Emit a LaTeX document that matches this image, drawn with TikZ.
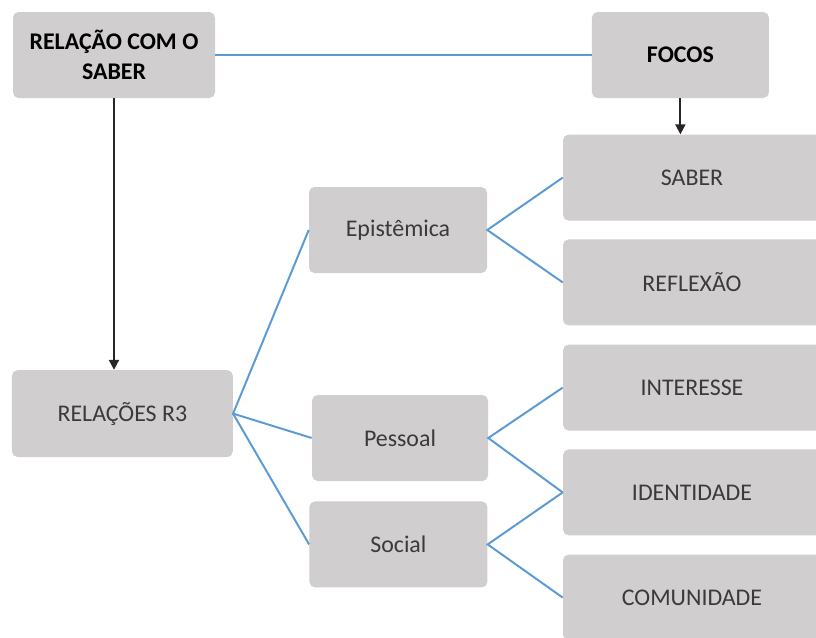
\documentclass[tikz,border=0pt]{standalone}
\usepackage{fontspec}
\setmainfont{Carlito}
\usetikzlibrary{positioning,arrows.meta}
\definecolor{boxgray}{HTML}{D0CECE}
\definecolor{linkblue}{HTML}{5B9BD5}
\definecolor{txtgray}{HTML}{3A3A3A}

\begin{document}
\begin{tikzpicture}[
  box/.style={fill=boxgray, rounded corners=4pt, minimum width=4.45cm, minimum height=2.15cm,
    inner sep=2pt, align=center, font=\fontsize{17}{21}\selectfont, text=txtgray},
  wide/.style={box, minimum width=6.45cm},
  head/.style={box, font=\fontsize{17}{21}\selectfont\bfseries, text=black},
  link/.style={linkblue, line width=1.4pt},
  arr/.style={-{Triangle[width=7pt,length=7pt]}, line width=1.4pt, black!85}]
  \useasboundingbox (0,0) rectangle (20.4,-15.925);
  \node[head, minimum width=5.05cm] (rel) at (2.85,-1.375) {RELAÇÃO COM O\\SABER};
  \node[head, minimum width=4.425cm] (focos) at (17.01,-1.375) {FOCOS};
  \node[box, minimum width=5.52cm, minimum height=2.175cm] (r3) at (3.06,-10.34) {RELAÇÕES R3};
  \node[box] (epist) at (9.95,-5.75) {Epistêmica};
  \node[box, minimum width=4.4cm] (pessoal) at (10.0,-10.95) {Pessoal};
  \node[box] (social) at (9.96,-13.61) {Social};
  \node[wide] (saber) at (17.3,-4.44) {SABER};
  \node[wide] (reflexao) at (17.3,-7.06) {REFLEXÃO};
  \node[wide] (interesse) at (17.3,-9.69) {INTERESSE};
  \node[wide] (identidade) at (17.3,-12.31) {IDENTIDADE};
  \node[wide] (comunidade) at (17.3,-14.94) {COMUNIDADE};
  \draw[link] (rel) -- (focos);
  \draw[arr] (rel.south) -- (rel.south |- r3.north);
  \draw[arr] (focos) -- (focos |- saber.north);
  \draw[link] (epist.west) -- (r3.east) -- (pessoal.west);
  \draw[link] (r3.east) -- (social.west);
  \draw[link] (saber.west) -- (epist.east) -- (reflexao.west);
  \draw[link] (interesse.west) -- (pessoal.east) -- (identidade.west);
  \draw[link] (identidade.west) -- (social.east) -- (comunidade.west);
\end{tikzpicture}
\end{document}
